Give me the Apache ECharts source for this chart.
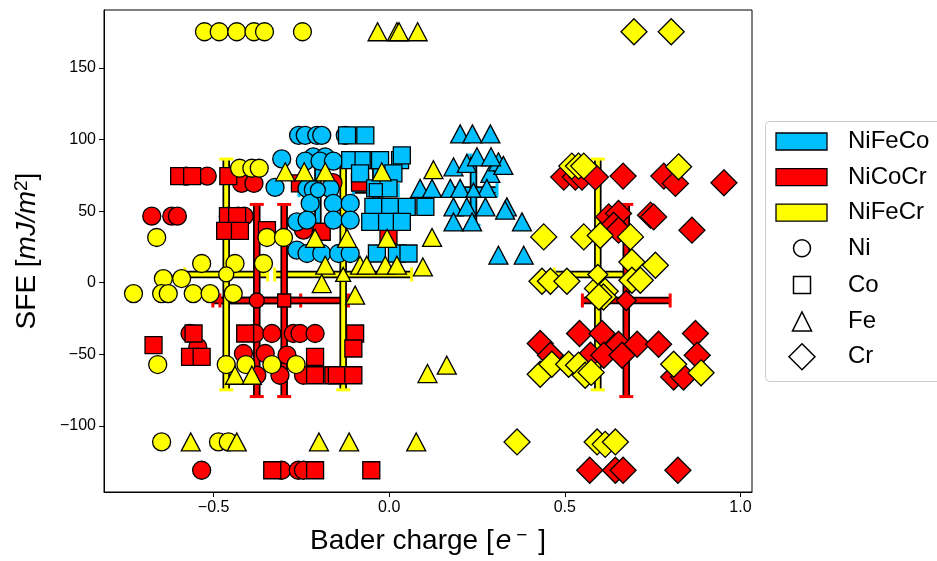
<!DOCTYPE html>
<html>
<head>
<meta charset="utf-8">
<script src="https://cdn.jsdelivr.net/npm/echarts@6/dist/echarts.min.js"></script>
<style>
  html, body { margin: 0; padding: 0; background: #fff; }
  #chart { width: 937px; height: 561px; }
</style>
</head>
<body>
<div id="chart"></div>
<script>
// tick values
const xTicks = [-0.5, 0, 0.5, 1.0]
const yTicks = [-100, -50, 0, 50, 100, 150]

// points: [Bader charge, SFE]
// NiCoCr (red)
const niCoCrNi = [
  [-0.578, 74.5], [-0.518, 74.5], [-0.42, 69.4], [-0.385, 69.4], [-0.16, 70],
  [-0.676, 46.5], [-0.619, 46.5], [-0.603, 46.5], [-0.458, 46.5], [-0.43, 46.5], [-0.413, 46.5],
  [-0.244, 36.7],
  [-0.567, -35.5], [-0.382, -35.5], [-0.334, -35.5], [-0.273, -35.5], [-0.254, -35.5], [-0.211, -35.5],
  [-0.545, -45], [-0.415, -49.5], [-0.353, -49.5], [-0.291, -50.6],
  [-0.377, -64.7], [-0.311, -64.7], [-0.244, -64.7],
  [-0.534, -131.1], [-0.306, -131.1], [-0.259, -131.1], [-0.244, -131.1]
]
const niCoCrCo = [
  [-0.598, 74.5], [-0.561, 74.5], [-0.458, 74.5], [-0.254, 69.4], [-0.083, 70],
  [-0.459, 46.5], [-0.433, 46.5],
  [-0.467, 36.2], [-0.425, 36.2], [-0.348, 36.7], [-0.192, 35.6], [-0.002, 33],
  [-0.557, -35.5], [-0.41, -35.5], [-0.097, -35.5],
  [-0.671, -43.7], [-0.102, -46],
  [-0.567, -51.9], [-0.534, -51.9], [-0.211, -51.9],
  [-0.211, -64.7], [-0.159, -64.7], [-0.149, -64.7], [-0.102, -64.7],
  [-0.333, -131.1], [-0.211, -131.1], [-0.051, -131.1]
]
const niCoCrCr = [
  [0.497, 73.8], [0.53, 73.8], [0.549, 73.8], [0.587, 73.8], [0.666, 74.5], [0.782, 74.5], [0.815, 69.4], [0.953, 69.8],
  [0.625, 46], [0.653, 48.4], [0.744, 47.2], [0.753, 46],
  [0.639, 40.2], [0.653, 36.7], [0.862, 36.7],
  [0.542, -35.5], [0.43, -42.5], [0.606, -35.5], [0.653, -43], [0.706, -43], [0.767, -43], [0.872, -35.5],
  [0.459, -50.7], [0.573, -50.7], [0.611, -50.7], [0.663, -50.7], [0.877, -50.7],
  [0.81, -65.9], [0.838, -65.9],
  [0.571, -131.1], [0.644, -131.1], [0.666, -131.1], [0.822, -131.1]
]

// NiFeCo (blue)
const niFeCoNi = [
  [-0.258, 103], [-0.239, 103], [-0.206, 103], [-0.192, 103], [-0.125, 103],
  [-0.306, 86.5], [-0.216, 88], [-0.182, 88], [-0.239, 85], [-0.197, 85], [-0.159, 85],
  [-0.325, 66.6], [-0.234, 65.9], [-0.216, 65], [-0.168, 65.9],
  [-0.225, 55.4], [-0.159, 55.4], [-0.111, 55.4],
  [-0.263, 42.5], [-0.234, 43.7], [-0.159, 43.7], [-0.111, 43.7],
  [-0.263, 22.7], [-0.234, 20.4], [-0.192, 20.4], [-0.144, 20.4], [-0.111, 20.4]
]
const niFeCoCo = [
  [-0.12, 103], [-0.068, 103],
  [-0.111, 85.7], [-0.073, 85.7], [-0.03, 85.7], [-0.026, 85.7], [0.031, 85.7], [0.036, 89],
  [-0.083, 76.4], [0.012, 76.4],
  [-0.04, 65.9], [-0.002, 65.9],
  [-0.045, 53], [0.003, 53], [0.05, 53], [0.103, 53],
  [-0.054, 42.5], [-0.006, 42.5], [0.036, 42.5],
  [-0.035, 20.4], [0.022, 20.4], [0.055, 20.4]
]
const niFeCoFe = [
  [0.202, 104], [0.237, 104], [0.288, 104],
  [0.183, 81], [0.221, 83.4], [0.288, 76.4], [0.311, 84.5], [0.325, 82], [0.25, 88], [0.29, 88],
  [0.088, 65.9], [0.122, 65.9], [0.174, 65.9], [0.202, 65.9], [0.278, 65.9],
  [0.183, 53], [0.221, 53], [0.274, 53], [0.335, 53], [0.33, 50.7],
  [0.183, 42.5], [0.236, 42.5], [0.378, 42.5],
  [0.311, 19.2], [0.383, 19.2]
]

// NiFeCr (yellow)
const niFeCrNi = [
  [-0.526, 175.4], [-0.484, 175.4], [-0.434, 175.4], [-0.385, 175.4], [-0.355, 175.4], [-0.247, 175.4],
  [-0.426, 80], [-0.391, 80], [-0.37, 80],
  [-0.662, 31.6], [-0.348, 31.6], [-0.301, 31.6],
  [-0.534, 13.4], [-0.439, 13.4], [-0.358, 13.4],
  [-0.643, 2.9], [-0.591, 2.9],
  [-0.728, -7.6], [-0.648, -7.6], [-0.629, -7.6], [-0.558, -7.6], [-0.51, -7.6], [-0.444, -7.6],
  [-0.659, -57.2], [-0.464, -57.2], [-0.408, -57.2], [-0.334, -57.2], [-0.265, -57.2],
  [-0.648, -111.3], [-0.486, -111.3], [-0.458, -111.3]
]
const niFeCrFe = [
  [-0.033, 175.4], [0.022, 175.4], [0.028, 175.4], [0.081, 175.4],
  [-0.296, 77.5], [-0.242, 77.5], [-0.182, 77.5], [-0.021, 77.5], [0.126, 79],
  [-0.211, 31], [-0.12, 31], [-0.006, 31], [0.122, 31.6],
  [-0.182, 12.2], [-0.083, 12.2], [-0.064, 12.2], [-0.011, 12.2], [0.022, 12.2], [0.096, 11],
  [-0.192, -0.6], [-0.097, -8.7],
  [-0.439, -64.7], [-0.391, -64.7], [0.109, -63.5], [0.164, -57.7],
  [-0.565, -111.3], [-0.434, -111.3], [-0.2, -111.3], [-0.114, -111.3], [0.077, -111.3]
]
const niFeCrCr = [
  [0.697, 175.4], [0.803, 175.4],
  [0.52, 81.5], [0.539, 81.5], [0.554, 81.5], [0.824, 81],
  [0.44, 32], [0.554, 32], [0.601, 33], [0.687, 32],
  [0.758, 12.2], [0.691, 14.5],
  [0.435, 1], [0.459, 1], [0.506, 1], [0.691, 1.7], [0.715, 1.7],
  [0.593, -4], [0.615, -6], [0.61, -10], [0.597, -10],
  [0.43, -64], [0.463, -57], [0.511, -57], [0.539, -57.7], [0.558, -64.7], [0.575, -62.7], [0.81, -57], [0.888, -63],
  [0.364, -111.3], [0.592, -111.3], [0.615, -113], [0.644, -111.3]
]

// means with errors: [x, y, xerr, yerr]
const meanNiCoCr = [[-0.377, -12.45, 0.125, 67.15], [-0.299, -12.45, 0.183, 67.15], [0.675, -12.45, 0.125, 67.15]]
const meanNiFeCo = [[-0.203, 64.7, 0.054, 24.5], [-0.038, 64.7, 0.064, 24.5], [0.240, 64.7, 0.067, 24.5]]
const meanNiFeCr = [[-0.464, 5.75, 0.118, 80.65], [-0.131, 5.75, 0.195, 80.65], [0.594, 5.75, 0.124, 80.65]]
const meanSymbolsNiCoCr = ['circle', 'rect', 'diamond']
const meanSymbolsNiFeCo = ['circle', 'rect', 'triangle']
const meanSymbolsNiFeCr = ['circle', 'triangle', 'diamond']

const BLUE = '#00BFFF', RED = '#FF0000', YELLOW = '#FFFF00'
const FONT = '"Liberation Sans", Arial, Helvetica, sans-serif'

const sizes = { circle: 18, rect: 17, triangle: [19, 18], diamond: 26 }
const meanSizes = { circle: 15, rect: 13, triangle: [15, 14], diamond: 20 }

function pts(data, color, symbol) {
  return {
    type: 'scatter',
    data: data,
    symbol: symbol,
    symbolSize: sizes[symbol],
    itemStyle: { color: color, borderColor: '#000', borderWidth: 1.3, opacity: 1 },
    emphasis: { disabled: true },
    silent: true
  }
}

function errorBars(data, color, horizontal) {
  return {
    type: 'custom',
    data: data,
    encode: { x: 0, y: 1 },
    silent: true,
    renderItem: function (params, api) {
      const x = api.value(0), y = api.value(1), ex = api.value(2), ey = api.value(3)
      const a = horizontal ? api.coord([x - ex, y]) : api.coord([x, y + ey])
      const b = horizontal ? api.coord([x + ex, y]) : api.coord([x, y - ey])
      const cap = p => horizontal
        ? { x1: p[0], y1: p[1] - 7, x2: p[0], y2: p[1] + 7 }
        : { x1: p[0] - 7, y1: p[1], x2: p[0] + 7, y2: p[1] }
      const seg = { x1: a[0], y1: a[1], x2: b[0], y2: b[1] }
      return {
        type: 'group',
        children: [
          { type: 'line', shape: seg, style: { stroke: '#000', lineWidth: 7.5 } },
          { type: 'line', shape: seg, style: { stroke: color, lineWidth: 4 } },
          { type: 'line', shape: cap(a), style: { stroke: color, lineWidth: 3 } },
          { type: 'line', shape: cap(b), style: { stroke: color, lineWidth: 3 } }
        ]
      }
    }
  }
}

function means(data, symbols, color) {
  return {
    type: 'scatter',
    data: data.map((d, i) => ({ value: d, symbol: symbols[i], symbolSize: meanSizes[symbols[i]] })),
    itemStyle: { color: color, borderColor: '#000', borderWidth: 1.3, opacity: 1 },
    emphasis: { disabled: true },
    silent: true
  }
}

// legend drawn as graphics
const legendRows = [141.5, 177.2, 212.6, 248.3, 285, 321.4, 356.7]
const legendItems = []
legendItems.push({ type: 'rect', shape: { x: 765.5, y: 121.5, width: 200, height: 260, r: 4 },
  style: { fill: '#fff', stroke: '#cccccc', lineWidth: 1 } })
;[['NiFeCo', BLUE], ['NiCoCr', RED], ['NiFeCr', YELLOW]].forEach((p, i) => {
  legendItems.push({ type: 'rect', shape: { x: 776, y: legendRows[i] - 8.5, width: 51, height: 17 },
    style: { fill: p[1], stroke: '#000', lineWidth: 1.3 } })
  legendItems.push({ type: 'text', x: 848, y: legendRows[i],
    style: { text: p[0], font: '24px ' + FONT, fill: '#000', verticalAlign: 'middle' } })
})
const mk = { fill: 'none', stroke: '#000', lineWidth: 1.5 }
const cx = 802
legendItems.push({ type: 'circle', shape: { cx: cx, cy: legendRows[3], r: 8.5 }, style: mk })
legendItems.push({ type: 'rect', shape: { x: cx - 8.5, y: legendRows[4] - 8.5, width: 17, height: 17 }, style: mk })
legendItems.push({ type: 'polygon', shape: { points: [[cx, legendRows[5] - 9.5], [cx - 9.5, legendRows[5] + 9.5], [cx + 9.5, legendRows[5] + 9.5]] }, style: mk })
legendItems.push({ type: 'polygon', shape: { points: [[cx, legendRows[6] - 13], [cx + 13, legendRows[6]], [cx, legendRows[6] + 13], [cx - 13, legendRows[6]]] }, style: mk })
;['Ni', 'Co', 'Fe', 'Cr'].forEach((t, i) => {
  legendItems.push({ type: 'text', x: 848, y: legendRows[3 + i],
    style: { text: t, font: '24px ' + FONT, fill: '#000', verticalAlign: 'middle' } })
})

const chart = echarts.init(document.getElementById('chart'), null, { renderer: 'canvas' })

const options = {
  animation: false,
  backgroundColor: '#fff',
  textStyle: { fontFamily: FONT },
  grid: { left: 104, right: 185, top: 10, bottom: 69, show: true, borderColor: '#000', borderWidth: 1 },
  xAxis: {
    type: 'value',
    min: -0.812,
    max: 1.033,
    splitLine: { show: false },
    axisLine: { show: true, onZero: false, lineStyle: { color: '#000', width: 1 } },
    axisTick: { show: true, customValues: xTicks, length: 5, lineStyle: { color: '#000' } },
    axisLabel: {
      customValues: xTicks, color: '#000', fontSize: 16, margin: 8,
      formatter: v => (v < 0 ? '\u2212' : '') + Math.abs(v).toFixed(1)
    },
    name: '{t|Bader charge [}{i|e}{s|\u2212}{t| ]}',
    nameLocation: 'middle',
    nameGap: 34,
    nameTextStyle: {
      rich: {
        t: { fontSize: 28, color: '#000', fontFamily: FONT, lineHeight: 31 },
        i: { fontSize: 28, color: '#000', fontFamily: FONT, fontStyle: 'italic', lineHeight: 31, padding: [0, 0, 0, 2] },
        s: { fontSize: 19, color: '#000', fontFamily: FONT, verticalAlign: 'top', padding: [0, 3, 0, 5] }
      }
    }
  },
  yAxis: {
    type: 'value',
    min: -146.3,
    max: 190.6,
    splitLine: { show: false },
    axisLine: { show: true, onZero: false, lineStyle: { color: '#000', width: 1 } },
    axisTick: { show: true, customValues: yTicks, length: 5, lineStyle: { color: '#000' } },
    axisLabel: {
      customValues: yTicks, color: '#000', fontSize: 16, margin: 8,
      formatter: v => (v < 0 ? '\u2212' : '') + Math.abs(v)
    },
    name: '{t|SFE [}{i|mJ/m}{s|2}{t|]}',
    nameLocation: 'middle',
    nameGap: 61,
    nameTextStyle: {
      rich: {
        t: { fontSize: 28, color: '#000', fontFamily: FONT, lineHeight: 31 },
        i: { fontSize: 28, color: '#000', fontFamily: FONT, fontStyle: 'italic', lineHeight: 31 },
        s: { fontSize: 19, color: '#000', fontFamily: FONT, verticalAlign: 'top' }
      }
    }
  },
  graphic: { elements: legendItems },
  series: [
    // points
    pts(niCoCrNi, RED, 'circle'),
    pts(niCoCrCo, RED, 'rect'),
    pts(niCoCrCr, RED, 'diamond'),
    pts(niFeCoNi, BLUE, 'circle'),
    pts(niFeCoCo, BLUE, 'rect'),
    pts(niFeCoFe, BLUE, 'triangle'),
    pts(niFeCrNi, YELLOW, 'circle'),
    pts(niFeCrFe, YELLOW, 'triangle'),
    pts(niFeCrCr, YELLOW, 'diamond'),
    // error bars
    errorBars(meanNiFeCo, BLUE, true),
    errorBars(meanNiCoCr, RED, true),
    errorBars(meanNiFeCr, YELLOW, true),
    errorBars(meanNiFeCo, BLUE, false),
    errorBars(meanNiCoCr, RED, false),
    errorBars(meanNiFeCr, YELLOW, false),
    // mean markers
    means(meanNiFeCo, meanSymbolsNiFeCo, BLUE),
    means(meanNiCoCr, meanSymbolsNiCoCr, RED),
    means(meanNiFeCr, meanSymbolsNiFeCr, YELLOW)
  ]
}
chart.setOption(options)
</script>
</body>
</html>
